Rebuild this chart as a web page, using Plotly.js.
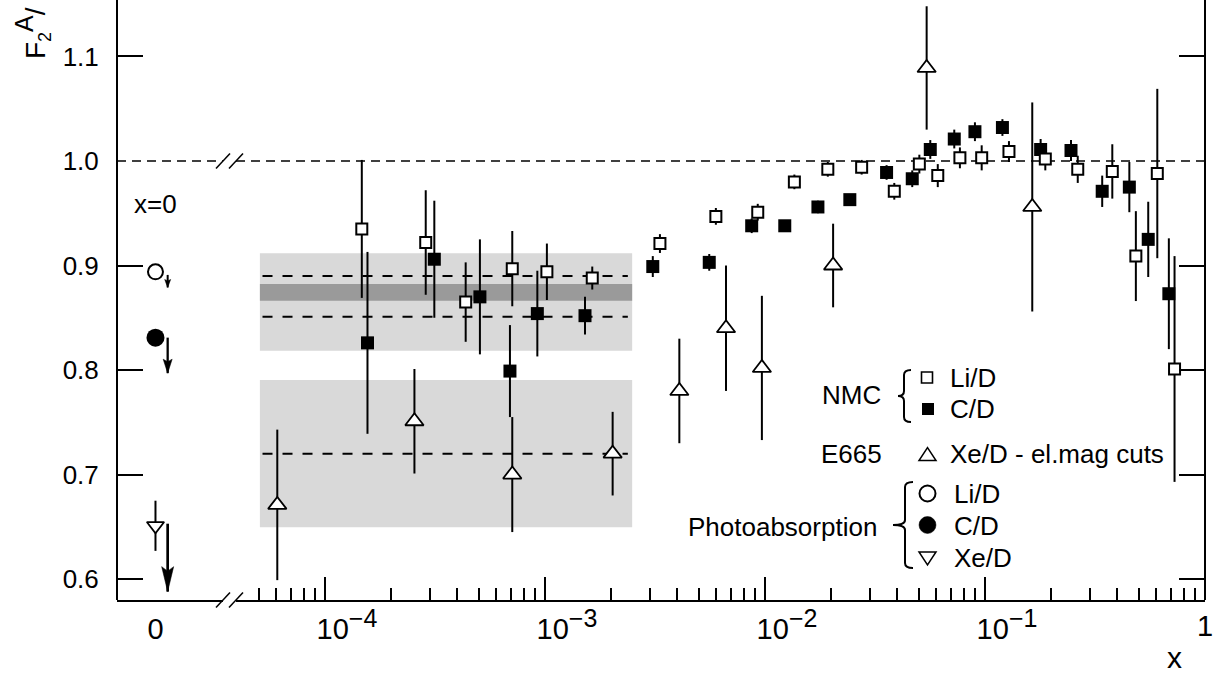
<!DOCTYPE html>
<html><head><meta charset="utf-8">
<script src="https://cdn.plot.ly/plotly-3.0.1.min.js"></script>
<style>html,body{margin:0;padding:0;background:#fff}#chart{width:1221px;height:676px}</style>
</head><body><div id="chart"></div>
<script>
// ---------------- data ----------------
// NMC Li/D (open squares)
const nmcLiX = [1.47e-4, 2.87e-4, 4.36e-4, 7.10e-4, 1.02e-3, 1.64e-3, 3.33e-3, 5.98e-3, 9.27e-3, 1.36e-2, 1.93e-2, 2.75e-2, 3.87e-2, 5.03e-2, 6.10e-2, 7.69e-2, 9.66e-2, 0.1285, 0.188, 0.264, 0.379, 0.485, 0.607, 0.727];
const nmcLiY = [0.935, 0.922, 0.865, 0.897, 0.894, 0.888, 0.921, 0.947, 0.951, 0.980, 0.992, 0.994, 0.971, 0.997, 0.986, 1.003, 1.003, 1.009, 1.002, 0.992, 0.990, 0.909, 0.988, 0.801];
const nmcLiErr = [0.066, 0.050, 0.038, 0.036, 0.027, 0.011, 0.009, 0.008, 0.008, 0.007, 0.007, 0.007, 0.008, 0.009, 0.011, 0.010, 0.012, 0.010, 0.011, 0.013, 0.026, 0.043, 0.081, 0.108];
// NMC C/D (filled squares)
const nmcCX = [1.56e-4, 3.14e-4, 5.06e-4, 6.93e-4, 9.23e-4, 1.52e-3, 3.09e-3, 5.58e-3, 8.70e-3, 1.23e-2, 1.74e-2, 2.43e-2, 3.57e-2, 4.67e-2, 5.64e-2, 7.25e-2, 9.00e-2, 0.120, 0.179, 0.246, 0.341, 0.453, 0.552, 0.685];
const nmcCY = [0.826, 0.906, 0.870, 0.799, 0.854, 0.852, 0.899, 0.903, 0.938, 0.938, 0.956, 0.963, 0.989, 0.983, 1.011, 1.021, 1.028, 1.032, 1.011, 1.010, 0.971, 0.975, 0.925, 0.873];
const nmcCErr = [0.087, 0.056, 0.055, 0.044, 0.041, 0.018, 0.010, 0.008, 0.007, 0.005, 0.006, 0.005, 0.007, 0.008, 0.009, 0.009, 0.009, 0.008, 0.010, 0.010, 0.015, 0.024, 0.036, 0.053];
// E665 Xe/D (open triangles)
const e665X = [6.07e-5, 2.55e-4, 7.10e-4, 2.03e-3, 4.08e-3, 6.65e-3, 9.68e-3, 2.04e-2, 5.43e-2, 0.164];
const e665Y = [0.671, 0.751, 0.700, 0.720, 0.780, 0.840, 0.802, 0.900, 1.089, 0.956];
const e665Err = [0.072, 0.050, 0.055, 0.040, 0.050, 0.060, 0.069, 0.040, 0.059, 0.100];
// Photoabsorption at x = 0
const photoLabels = ['Li/D', 'C/D', 'Xe/D'];
const photoY = [0.894, 0.831, 0.651];
const photoXeErr = [0.024];
const arrowStart = [0.891, 0.831, 0.653];
const arrowEnd = [0.879, 0.797, 0.588];
// shaded averages (low-x region)
const boxXRange = [5.06e-5, 2.49e-3];
const meanXRange = [5.2e-5, 2.38e-3];
const nmcBand = [0.8185, 0.9117];      // light band (NMC)
const nmcInner = [0.8663, 0.8823];     // dark band (NMC)
const e665Band = [0.6495, 0.7904];     // light band (E665)
const meanLines = [0.890, 0.851, 0.720];
// ticks
const yTicks = [0.6, 0.7, 0.8, 0.9, 1.0, 1.1];
const yTickMarks = [0.6, 0.7, 0.8, 0.9, 1.1];
const logTickVals = [1e-4, 1e-3, 1e-2, 1e-1];
const logExponents = ['\u22124', '\u22123', '\u22122', '\u22121'];

// ---------------- layout helpers ----------------
const FONT = 'Liberation Sans, Arial, Helvetica, sans-serif';
const L = 117, R = 1205, T = 0, B = 600;
const PW = R - L, PH = B - T;
const px = x => (x - L) / PW;
const py = y => (B - y) / PH;
const YR = [0.58, 1.154];
const LOGR = [-4.4045, 0];
const LINR = [-0.363, 0.637];
const d1 = px(223), d2 = px(236);
const arrowX = 0.115;
const logTickText = logExponents.map(e => `10<sup><span style="font-size:25px">${e}</span></sup>`);

const minorVals = [];
for (let e = -5; e <= -1; e++) for (let d = 2; d <= 9; d++) { const v = d * Math.pow(10, e); if (v > 4.6e-5) minorVals.push(v); }

const errStyle = (arr) => ({type: 'data', array: arr, visible: true, color: 'black', thickness: 2, width: 0});

const traces = [
  {x: e665X, y: e665Y, xaxis: 'x2', yaxis: 'y', mode: 'markers', name: 'E665 Xe/D',
   error_y: errStyle(e665Err),
   marker: {symbol: 'triangle-up', size: 16, color: 'white', line: {color: 'black', width: 1.8}}},
  {x: nmcCX, y: nmcCY, xaxis: 'x2', yaxis: 'y', mode: 'markers', name: 'NMC C/D',
   error_y: errStyle(nmcCErr),
   marker: {symbol: 'square', size: 13, color: 'black', line: {width: 0}}},
  {x: nmcLiX, y: nmcLiY, xaxis: 'x2', yaxis: 'y', mode: 'markers', name: 'NMC Li/D',
   error_y: errStyle(nmcLiErr),
   marker: {symbol: 'square', size: 11, color: 'white', line: {color: 'black', width: 2}}},
  {x: [0], y: [photoY[0]], xaxis: 'x', yaxis: 'y', mode: 'markers', name: 'Photoabsorption ' + photoLabels[0],
   marker: {symbol: 'circle', size: 15, color: 'white', line: {color: 'black', width: 2}}},
  {x: [0], y: [photoY[1]], xaxis: 'x', yaxis: 'y', mode: 'markers', name: 'Photoabsorption ' + photoLabels[1],
   marker: {symbol: 'circle', size: 18, color: 'black', line: {width: 0}}},
  {x: [0], y: [photoY[2]], xaxis: 'x', yaxis: 'y', mode: 'markers', name: 'Photoabsorption ' + photoLabels[2],
   error_y: errStyle(photoXeErr),
   marker: {symbol: 'triangle-down', size: 15, color: 'white', line: {color: 'black', width: 1.8}}},
  // carriers for overlay axes
  {x: [], y: [], xaxis: 'x3', yaxis: 'y', mode: 'markers', hoverinfo: 'skip'},
  {x: [], y: [], xaxis: 'x2', yaxis: 'y2', mode: 'markers', hoverinfo: 'skip'},
  {x: [], y: [], xaxis: 'x2', yaxis: 'y3', mode: 'markers', hoverinfo: 'skip'}
];

const shapes = [];
// shaded bands
shapes.push({type: 'rect', xref: 'x2', yref: 'y', x0: boxXRange[0], x1: boxXRange[1], y0: nmcBand[0], y1: nmcBand[1], fillcolor: '#d9d9d9', line: {width: 0}, layer: 'below'});
shapes.push({type: 'rect', xref: 'x2', yref: 'y', x0: boxXRange[0], x1: boxXRange[1], y0: nmcInner[0], y1: nmcInner[1], fillcolor: '#9a9a9a', line: {width: 0}, layer: 'below'});
shapes.push({type: 'rect', xref: 'x2', yref: 'y', x0: boxXRange[0], x1: boxXRange[1], y0: e665Band[0], y1: e665Band[1], fillcolor: '#d9d9d9', line: {width: 0}, layer: 'below'});
meanLines.forEach(v => shapes.push({type: 'line', xref: 'x2', yref: 'y', x0: meanXRange[0], x1: meanXRange[1], y0: v, y1: v, line: {color: 'black', width: 2, dash: '10px,10px'}, layer: 'below'}));
// unity line, broken
shapes.push({type: 'line', xref: 'paper', yref: 'y', x0: 0, x1: d1, y0: 1, y1: 1, line: {color: 'black', width: 1.5, dash: '9px,6px'}, layer: 'below'});
shapes.push({type: 'line', xref: 'paper', yref: 'y', x0: d2, x1: 1, y0: 1, y1: 1, line: {color: 'black', width: 1.5, dash: '9px,6px'}, layer: 'below'});
// axis-break marks
[161, 600].forEach(yc => {
  [[216, 230], [229, 243]].forEach(([a, b]) => shapes.push({type: 'line', xref: 'paper', yref: 'paper', x0: px(a), y0: py(yc + 7.5), x1: px(b), y1: py(yc - 7.5), line: {color: 'black', width: 1.5}}));
});
// arrows at x = 0
const headW = [6, 9, 12], headL = [8, 14, 25], shaftW = [2, 2.3, 2.7];
arrowStart.forEach((s, i) => {
  shapes.push({type: 'line', xref: 'x', yref: 'y', x0: arrowX, x1: arrowX, y0: s, y1: arrowEnd[i], line: {color: 'black', width: shaftW[i]}});
  const w = headW[i] / 2, l = headL[i];
  shapes.push({type: 'path', xref: 'x', yref: 'y', xsizemode: 'pixel', ysizemode: 'pixel', xanchor: arrowX, yanchor: arrowEnd[i],
    path: `M0,0 L${-w},${l} L0,${0.82 * l} L${w},${l} Z`, fillcolor: 'black', line: {color: 'black', width: 0.5}});
});
// legend symbols
const P = (x, y) => `${px(x)},${py(y)}`;
shapes.push({type: 'rect', xref: 'paper', yref: 'paper', x0: px(921.5), x1: px(932.5), y0: py(383), y1: py(372), fillcolor: 'white', line: {color: 'black', width: 1.6}});
shapes.push({type: 'rect', xref: 'paper', yref: 'paper', x0: px(922), x1: px(934), y0: py(415), y1: py(403), fillcolor: 'black', line: {width: 0}});
shapes.push({type: 'path', xref: 'paper', yref: 'paper', path: `M${P(919, 460.5)} L${P(936, 460.5)} L${P(927.5, 447.5)} Z`, fillcolor: 'white', line: {color: 'black', width: 1.5}});
shapes.push({type: 'circle', xref: 'paper', yref: 'paper', x0: px(919.5), x1: px(935.5), y0: py(501.5), y1: py(485.5), fillcolor: 'white', line: {color: 'black', width: 2}});
shapes.push({type: 'circle', xref: 'paper', yref: 'paper', x0: px(919), x1: px(936), y0: py(533.5), y1: py(516.5), fillcolor: 'black', line: {color: 'black', width: 0.5}});
shapes.push({type: 'path', xref: 'paper', yref: 'paper', path: `M${P(919, 552)} L${P(936, 552)} L${P(927.5, 565)} Z`, fillcolor: 'white', line: {color: 'black', width: 1.5}});
// braces
function brace(x0, x1, xm, yTop, yBot, yMid) {
  const r = 5;
  return `M${P(x1, yTop)} Q${P(xm, yTop)} ${P(xm, yTop + r)} L${P(xm, yMid - r)} Q${P(xm, yMid)} ${P(x0, yMid)} Q${P(xm, yMid)} ${P(xm, yMid + r)} L${P(xm, yBot - r)} Q${P(xm, yBot)} ${P(x1, yBot)}`;
}
shapes.push({type: 'path', xref: 'paper', yref: 'paper', path: brace(898, 911, 904, 370, 422, 396), line: {color: 'black', width: 2}});
shapes.push({type: 'path', xref: 'paper', yref: 'paper', path: brace(893, 913, 905, 482, 568, 525), line: {color: 'black', width: 2}});

const ann = (text, x, y, xanchor, extra) => Object.assign({text, xref: 'paper', yref: 'paper', x: px(x), y: py(y), xanchor: xanchor, yanchor: 'middle', showarrow: false, font: {family: FONT, size: 26, color: 'black'}}, extra || {});
const annotations = [
  ann('x=0', 155, 204, 'center'),
  ann('F<sub><span style="font-size:18px">2</span></sub><sup><span style="font-size:25px">A</span></sup>/', 32, 33, 'center', {textangle: -90, font: {family: FONT, size: 28, color: 'black'}}),
  Object.assign(ann('x', 1174, 676, 'center', {font: {family: FONT, size: 30, color: 'black'}}), {yanchor: 'bottom'}),
  ann('NMC', 851, 395, 'center'),
  ann('Li/D', 948, 378, 'left'),
  ann('C/D', 948, 409, 'left'),
  ann('E665', 851, 454, 'center'),
  ann('Xe/D - el.mag cuts', 948, 454, 'left'),
  ann('Photoabsorption', 879, 527, 'right'),
  ann('Li/D', 952, 494, 'left'),
  ann('C/D', 952, 526, 'left'),
  ann('Xe/D', 952, 558, 'left')
];

const axCommon = {showgrid: false, zeroline: false, linecolor: 'black', tickcolor: 'black', tickfont: {family: FONT, size: 26, color: 'black'}};
const xFont = {family: FONT, size: 29, color: 'black'};
const layout = {
  width: 1221, height: 676,
  margin: {l: L, r: 1221 - R, t: T, b: 676 - B},
  paper_bgcolor: 'white', plot_bgcolor: 'white',
  showlegend: false,
  font: {family: FONT, size: 26, color: 'black'},
  xaxis: Object.assign({}, axCommon, {domain: [0, d1], range: LINR, tickvals: [0], ticktext: ['0'], ticks: '', showline: true, linewidth: 2, anchor: 'y', ticklabelstandoff: 2, tickfont: xFont}),
  xaxis2: Object.assign({}, axCommon, {type: 'log', domain: [d2, 1], range: LOGR, tickmode: 'array', tickvals: logTickVals, ticktext: logTickText, ticks: 'inside', ticklen: 23, tickwidth: 2, showline: true, linewidth: 2, anchor: 'y', ticklabelshift: 22, ticklabelstandoff: 2, tickfont: xFont,
    minor: {tickmode: 'array', tickvals: minorVals, ticks: 'inside', ticklen: 12, tickwidth: 2, tickcolor: 'black', showgrid: false}}),
  xaxis3: Object.assign({}, axCommon, {type: 'log', overlaying: 'x2', domain: [d2, 1], range: LOGR, tickmode: 'array', tickvals: [1], ticktext: ['1'], ticks: '', showline: false, anchor: 'y', ticklabelstandoff: 6, tickfont: xFont}),
  yaxis: Object.assign({}, axCommon, {range: YR, tickmode: 'array', tickvals: yTicks, tickformat: '.1f', ticks: '', showline: true, linewidth: 2, anchor: 'free', position: 0, ticklabelstandoff: 12}),
  yaxis2: Object.assign({}, axCommon, {range: YR, overlaying: 'y', side: 'right', anchor: 'free', position: 1, tickmode: 'array', tickvals: yTickMarks, ticks: 'inside', ticklen: 25, tickwidth: 2, showticklabels: false, showline: true, linewidth: 2}),
  yaxis3: Object.assign({}, axCommon, {range: YR, overlaying: 'y', side: 'left', anchor: 'free', position: 0, tickmode: 'array', tickvals: yTickMarks, ticks: 'inside', ticklen: 25, tickwidth: 2, showticklabels: false, showline: false}),
  shapes: shapes,
  annotations: annotations
};

Plotly.newPlot('chart', traces, layout, {displayModeBar: false, staticPlot: true});
</script>
</body></html>
